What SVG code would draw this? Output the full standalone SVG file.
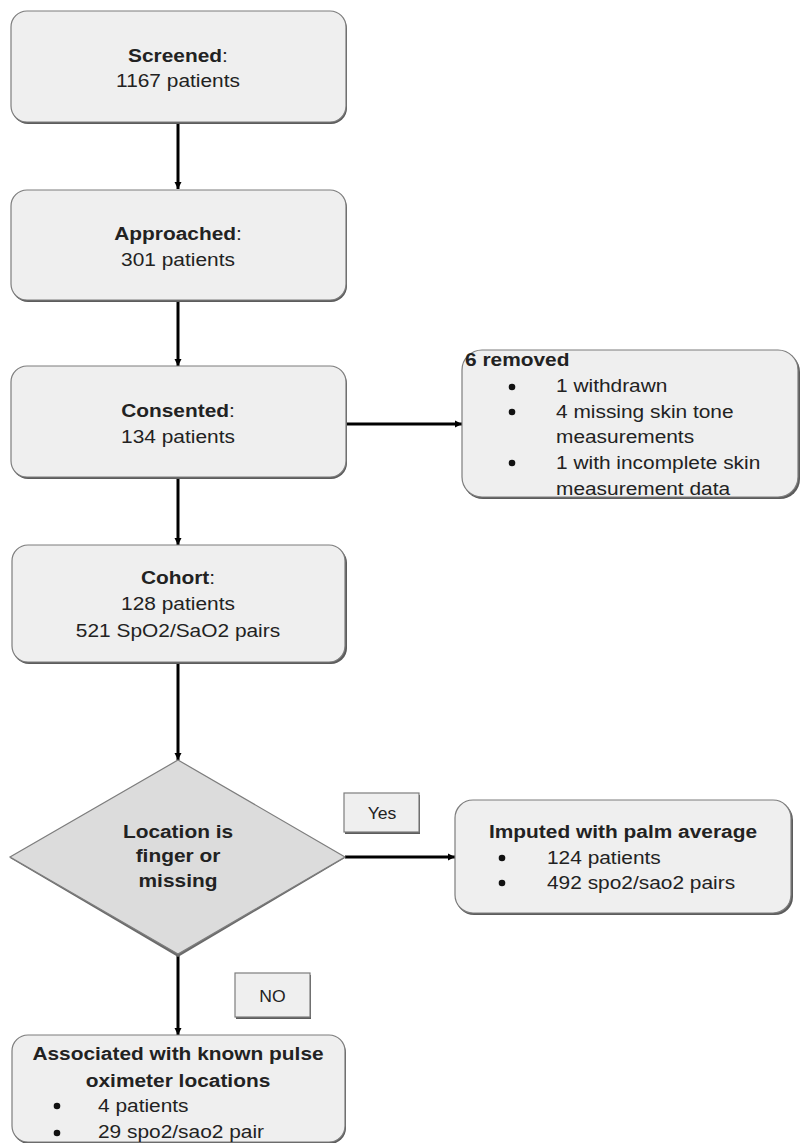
<svg xmlns="http://www.w3.org/2000/svg" width="800" height="1143" viewBox="0 0 800 1143">
<style>
.box{fill:#efefef;stroke:#7d7d7d;stroke-width:1.2}
.sh{fill:#5c5c5c}
.t{font-family:"Liberation Sans",Arial,sans-serif;font-size:18.5px;fill:#222}
.b{font-weight:bold}
.m{text-anchor:middle}
.edge{stroke:#000;stroke-width:3;fill:none}
.dot{fill:#111}
</style>
<defs>
<marker id="ah" markerUnits="userSpaceOnUse" markerWidth="10" markerHeight="10" refX="8" refY="5" orient="auto">
<path d="M1,1.5 L8,5 L1,8.5 Z" fill="#000"/>
</marker>
</defs>
<rect width="800" height="1143" fill="#fff"/>

<g id="edges">
<line class="edge" x1="178" y1="123" x2="178" y2="189" marker-end="url(#ah)"/>
<line class="edge" x1="178" y1="301" x2="178" y2="366" marker-end="url(#ah)"/>
<line class="edge" x1="178" y1="479" x2="178" y2="545" marker-end="url(#ah)"/>
<line class="edge" x1="346" y1="424" x2="462" y2="424" marker-end="url(#ah)"/>
<line class="edge" x1="178" y1="663" x2="178" y2="760" marker-end="url(#ah)"/>
<line class="edge" x1="345" y1="857" x2="455" y2="857" marker-end="url(#ah)"/>
<line class="edge" x1="178" y1="955" x2="178" y2="1035" marker-end="url(#ah)"/>
</g>

<g id="screened">
<rect class="sh" x="12" y="13" width="335" height="111" rx="16"/>
<rect class="box" x="11" y="11" width="335" height="111" rx="16"/>
<text class="t m" transform="translate(178 62) scale(1.13 1)"><tspan class="b">Screened</tspan>:</text>
<text class="t m" transform="translate(178 87) scale(1.13 1)">1167 patients</text>
</g>

<g id="approached">
<rect class="sh" x="12" y="192" width="335" height="110" rx="16"/>
<rect class="box" x="11" y="190" width="335" height="110" rx="16"/>
<text class="t m" transform="translate(178 240) scale(1.13 1)"><tspan class="b">Approached</tspan>:</text>
<text class="t m" transform="translate(178 266) scale(1.13 1)">301 patients</text>
</g>

<g id="consented">
<rect class="sh" x="12" y="368" width="335" height="111" rx="16"/>
<rect class="box" x="11" y="366" width="335" height="111" rx="16"/>
<text class="t m" transform="translate(178 417) scale(1.13 1)"><tspan class="b">Consented</tspan>:</text>
<text class="t m" transform="translate(178 443) scale(1.13 1)">134 patients</text>
</g>

<g id="removed">
<rect class="sh" x="463" y="352" width="337" height="147" rx="20"/>
<rect class="box" x="462" y="350" width="336" height="147" rx="20"/>
<text class="t b" transform="translate(465 366) scale(1.13 1)">6 removed</text>
<circle class="dot" cx="512" cy="387" r="3.3"/>
<text class="t" transform="translate(556 392) scale(1.13 1)">1 withdrawn</text>
<circle class="dot" cx="512" cy="412" r="3.3"/>
<text class="t" transform="translate(556 418) scale(1.13 1)">4 missing skin tone</text>
<text class="t" transform="translate(556 443) scale(1.13 1)">measurements</text>
<circle class="dot" cx="512" cy="463" r="3.3"/>
<text class="t" transform="translate(556 469) scale(1.13 1)">1 with incomplete skin</text>
<text class="t" transform="translate(556 495) scale(1.13 1)">measurement data</text>
</g>

<g id="cohort">
<rect class="sh" x="13" y="547" width="334" height="117" rx="16"/>
<rect class="box" x="12" y="545" width="333" height="117" rx="16"/>
<text class="t m" transform="translate(178 584) scale(1.13 1)"><tspan class="b">Cohort</tspan>:</text>
<text class="t m" transform="translate(178 610) scale(1.13 1)">128 patients</text>
<text class="t m" transform="translate(178 637) scale(1.13 1)">521 SpO2/SaO2 pairs</text>
</g>

<g id="decision">
<polygon points="178,761 345,858 178,957 10,858" fill="#6a6a6a"/>
<polygon points="178,760 345,857 178,954 10,857" fill="#dcdcdc" stroke="#7d7d7d" stroke-width="1.2"/>
<text class="t b m" transform="translate(178 838) scale(1.13 1)">Location is</text>
<text class="t b m" transform="translate(178 862) scale(1.13 1)">finger or</text>
<text class="t b m" transform="translate(178 887) scale(1.13 1)">missing</text>
</g>

<g id="yes">
<rect class="sh" x="345" y="795" width="75" height="39"/>
<rect class="box" x="344" y="793" width="75" height="39"/>
<text class="t m" style="font-size:16px" transform="translate(382 819) scale(1.1 1)">Yes</text>
</g>

<g id="imputed">
<rect class="sh" x="456" y="802" width="337" height="113" rx="18"/>
<rect class="box" x="455" y="800" width="336" height="113" rx="18"/>
<text class="t b m" transform="translate(623 838) scale(1.13 1)">Imputed with palm average</text>
<circle class="dot" cx="502" cy="858" r="3.3"/>
<text class="t" transform="translate(547 864) scale(1.13 1)">124 patients</text>
<circle class="dot" cx="502" cy="883" r="3.3"/>
<text class="t" transform="translate(547 889) scale(1.13 1)">492 spo2/sao2 pairs</text>
</g>

<g id="no">
<rect class="sh" x="236" y="975" width="75" height="44"/>
<rect class="box" x="235" y="973" width="75" height="44"/>
<text class="t m" style="font-size:16px" transform="translate(272.5 1002) scale(1.1 1)">NO</text>
</g>

<g id="associated">
<rect class="sh" x="13" y="1037" width="333" height="107" rx="16"/>
<rect class="box" x="12" y="1035" width="333" height="107" rx="16"/>
<text class="t b m" transform="translate(178 1060) scale(1.13 1)">Associated with known pulse</text>
<text class="t b m" transform="translate(178 1087) scale(1.13 1)">oximeter locations</text>
<circle class="dot" cx="57" cy="1106" r="3.3"/>
<text class="t" transform="translate(98 1112) scale(1.13 1)">4 patients</text>
<circle class="dot" cx="57" cy="1133" r="3.3"/>
<text class="t" transform="translate(98 1138) scale(1.13 1)">29 spo2/sao2 pair</text>
</g>
</svg>
